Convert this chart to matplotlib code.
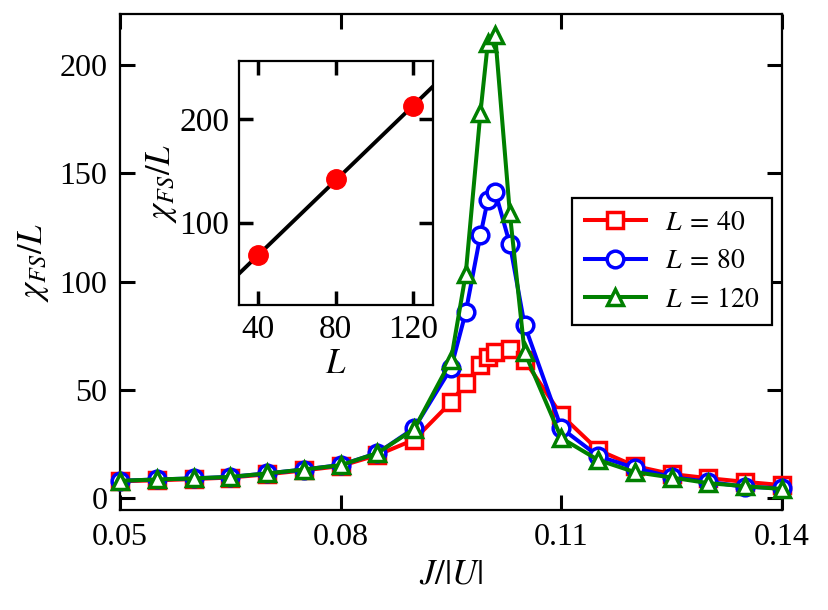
import numpy as np
import matplotlib
matplotlib.use("Agg")
import matplotlib.pyplot as plt

plt.rcParams['font.family'] = 'serif'
plt.rcParams['font.serif'] = ['Liberation Serif', 'DejaVu Serif']
plt.rcParams['mathtext.fontset'] = 'stix'

# data
J = [0.05, 0.055, 0.06, 0.065, 0.07, 0.075, 0.08, 0.085, 0.09, 0.095, 0.097,
     0.099, 0.100, 0.101, 0.103, 0.105, 0.11, 0.115, 0.12, 0.125, 0.13, 0.135, 0.14]
chi_L40 = [7.8, 8.2, 8.8, 9.5, 11.0, 12.8, 14.8, 19.9, 27.0, 44.3, 53.0,
           61.4, 65.1, 67.4, 68.8, 63.7, 38.3, 22.2, 14.8, 11.1, 9.2, 7.5, 6.0]
chi_L80 = [8.0, 8.6, 9.1, 9.8, 11.4, 13.2, 15.3, 20.8, 32.3, 60.0, 85.8,
           121.5, 137.6, 141.5, 117.3, 79.9, 32.3, 19.4, 13.9, 9.7, 7.5, 5.2, 4.6]
chi_L120 = [8.0, 8.6, 9.1, 9.8, 11.4, 13.2, 15.2, 20.8, 31.9, 63.7, 103.5,
            178.0, 210.0, 213.9, 131.5, 67.4, 27.7, 17.6, 12.0, 9.5, 6.9, 5.5, 4.2]

# inset: peak height vs system size
L_sizes = [40, 80, 120]
chi_peak = [68.1, 142.0, 213.2]

xticks = [0.05, 0.08, 0.11, 0.14]
xticklabels = ['0.05', '0.08', '0.11', '0.14']
yticks = [0, 50, 100, 150, 200]

fig = plt.figure(figsize=(8.29, 6.10), dpi=100)
ax = fig.add_axes([0.1448, 0.1639, 0.7985, 0.8131])

series = [(chi_L40, 'red', 's', r'$L\:=\:40$'),
          (chi_L80, 'blue', 'o', r'$L\:=\:80$'),
          (chi_L120, 'green', '^', r'$L\:=\:120$')]
for vals, col, mk, lab in series:
    ax.plot(J, vals, color=col, marker=mk, lw=2.9, ms=12, mew=2.5,
            mfc='white', mec=col, label=lab, clip_on=False, zorder=3)

ax.set_xlim(0.05, 0.14)
ax.set_ylim(-5.5, 223.5)
ax.set_xticks(xticks)
ax.set_xticklabels(xticklabels)
ax.set_yticks(yticks)
ax.tick_params(direction='in', length=11, width=2.2, labelsize=23,
               top=True, right=True, pad=9)
for s in ax.spines.values():
    s.set_linewidth(1.6)
ax.set_xlabel(r'$J/|U|$', fontsize=25, labelpad=5)
ax.set_ylabel(r'$\chi_{FS}/L$', fontsize=25, labelpad=6)

leg = ax.legend(loc='upper left', bbox_to_anchor=(0.683, 0.629),
                borderaxespad=0, fontsize=20, fancybox=False,
                edgecolor='black', framealpha=1, handlelength=2.2,
                handletextpad=0.7, labelspacing=0.47, borderpad=0.45)
leg.get_frame().set_linewidth(1.6)

# inset
axi = fig.add_axes([0.2883, 0.5, 0.2337, 0.4005])
coef = np.polyfit(L_sizes, chi_peak, 1)
Lfit = np.array([30, 130])
axi.plot(Lfit, np.polyval(coef, Lfit), color='black', lw=2.8, zorder=2)
axi.plot(L_sizes, chi_peak, 'o', color='red', ms=14, zorder=3)
axi.set_xlim(30, 130)
axi.set_ylim(20, 257)
axi.set_xticks(L_sizes)
axi.set_yticks([100, 200])
axi.tick_params(direction='in', length=10, width=2.5, labelsize=24,
                top=True, right=True, pad=7)
for s in axi.spines.values():
    s.set_linewidth(1.6)
axi.set_xlabel(r'$L$', fontsize=25, labelpad=2)
axi.set_ylabel(r'$\chi_{FS}/L$', fontsize=25, labelpad=0)

fig.savefig('out.png', dpi=100)
